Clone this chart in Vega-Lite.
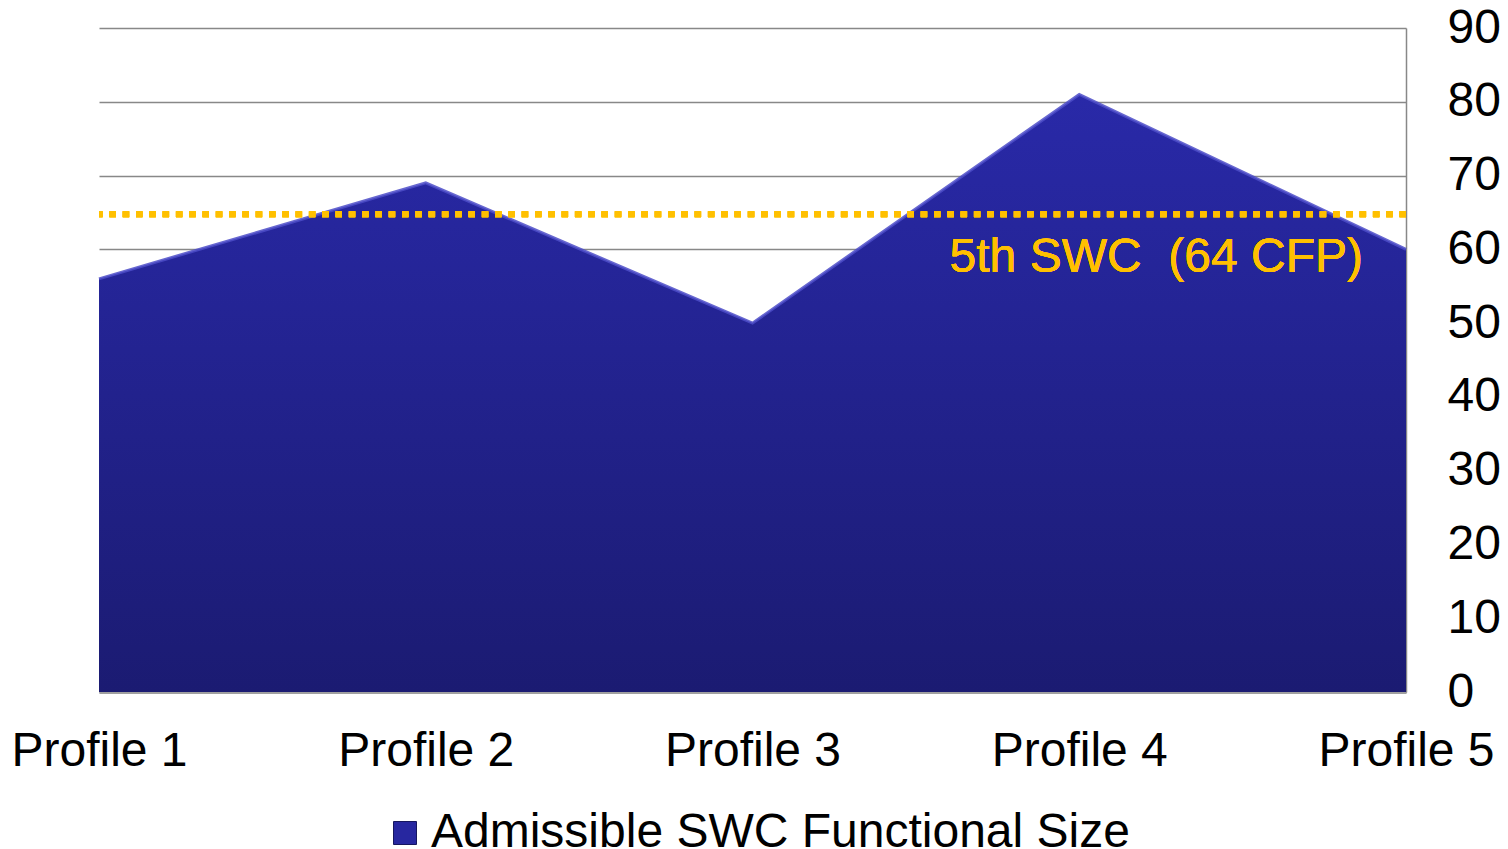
{
  "$schema": "https://vega.github.io/schema/vega-lite/v6.json",
  "autosize": "none",
  "width": 1307,
  "height": 664,
  "padding": {"left": 99, "top": 28, "right": 102, "bottom": 157},
  "background": "white",
  "config": {
    "font": "Liberation Sans",
    "view": {"stroke": null}
  },
  "data": {
    "values": [
      {"profile": "Profile 1", "size": 56, "series": "Admissible SWC Functional Size"},
      {"profile": "Profile 2", "size": 69, "series": "Admissible SWC Functional Size"},
      {"profile": "Profile 3", "size": 50, "series": "Admissible SWC Functional Size"},
      {"profile": "Profile 4", "size": 81, "series": "Admissible SWC Functional Size"},
      {"profile": "Profile 5", "size": 60, "series": "Admissible SWC Functional Size"}
    ]
  },
  "encoding": {
    "x": {
      "field": "profile",
      "type": "ordinal",
      "scale": {"type": "point", "padding": 0},
      "axis": {
        "title": null,
        "labelAngle": 0,
        "labelFontSize": 48,
        "labelColor": "black",
        "labelPadding": 35,
        "labelFlush": false,
        "labelOverlap": false,
        "ticks": false,
        "domain": true,
        "domainColor": "#a0a0a0",
        "domainWidth": 3,
        "grid": false
      }
    },
    "y": {
      "field": "size",
      "type": "quantitative",
      "scale": {"domain": [0, 90], "nice": false},
      "axis": {
        "orient": "right",
        "title": null,
        "values": [0, 10, 20, 30, 40, 50, 60, 70, 80, 90],
        "labelFontSize": 48,
        "labelColor": "black",
        "labelAlign": "left",
        "labelPadding": 41,
        "ticks": false,
        "domain": true,
        "domainColor": "#888888",
        "domainWidth": 1.5,
        "grid": true,
        "gridColor": "#888888",
        "gridWidth": 1.5
      }
    }
  },
  "layer": [
    {
      "mark": {
        "type": "area",
        "color": {
          "gradient": "linear",
          "x1": 0, "y1": 0, "x2": 0, "y2": 1,
          "stops": [
            {"offset": 0, "color": "#2929A8"},
            {"offset": 1, "color": "#1B1B72"}
          ]
        }
      }
    },
    {
      "mark": {"type": "line", "color": "#4C4CC8", "strokeWidth": 3, "opacity": 0.85}
    },
    {
      "mark": {"type": "square", "opacity": 0},
      "encoding": {
        "color": {
          "field": "series",
          "type": "nominal",
          "scale": {"range": ["#2727A0"]},
          "legend": {
            "title": null,
            "orient": "none",
            "legendX": 282,
            "legendY": 781,
            "direction": "horizontal",
            "symbolType": "square",
            "symbolSize": 529,
            "symbolOpacity": 1,
            "symbolStrokeColor": "#16165e",
            "symbolStrokeWidth": 1,
            "labelFontSize": 48,
            "labelColor": "black",
            "labelOffset": 2,
            "labelLimit": 1000
          }
        }
      }
    },
    {
      "mark": {"type": "rule", "color": "#FFC000", "strokeWidth": 6, "strokeDash": [6.5, 6.8]},
      "encoding": {"x": null, "y": {"datum": 64.75, "type": "quantitative"}}
    },
    {
      "mark": {
        "type": "text",
        "text": "5th SWC\u00a0\u00a0(64 CFP)",
        "color": "#FFC000",
        "fontSize": 48,
        "align": "right",
        "baseline": "alphabetic",
        "dx": -43,
        "dy": 58
      },
      "encoding": {
        "x": {"datum": "Profile 5", "type": "ordinal"},
        "y": {"datum": 64.75, "type": "quantitative"}
      }
    }
  ]
}
